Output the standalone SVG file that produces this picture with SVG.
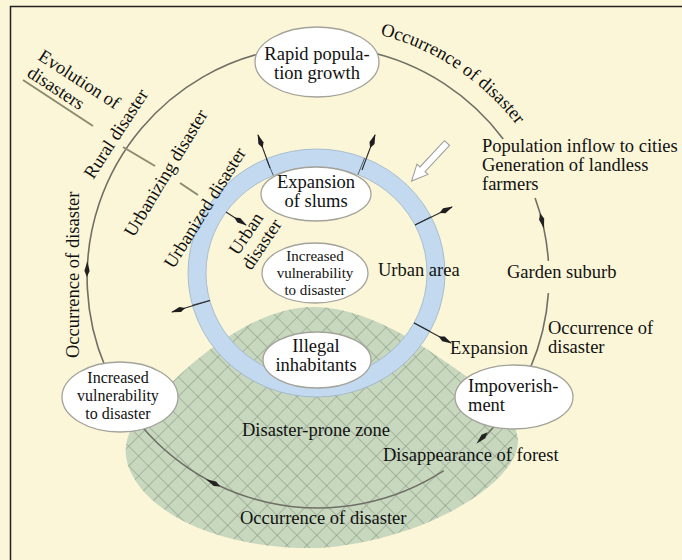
<svg xmlns="http://www.w3.org/2000/svg" width="682" height="560" viewBox="0 0 682 560">
<style>
text{font-family:"Liberation Serif","Times New Roman",serif;font-size:18.5px;fill:#111}
.sm{font-size:15px}
.md{font-size:16px}
.node{fill:#fff;stroke:#a3a39a;stroke-width:1.3}
.arc{fill:none;stroke:#6f6f66;stroke-width:1.6}
.sep{stroke:#50606e;stroke-width:1}
.arr{stroke:#2a2a2a;stroke-width:1.1;fill:none;marker-end:url(#head)}
.lead{stroke:#8c8a70;stroke-width:2}
.ah{fill:#222}
</style>
<defs>
<marker id="head" viewBox="0 0 14 6" refX="13" refY="3" markerWidth="15" markerHeight="6.5" markerUnits="userSpaceOnUse" orient="auto">
<path d="M0,3 L5,0.5 L14,3 L5,5.5 Z" fill="#1e1e1e"/>
</marker>
<path id="spindle" d="M-8,0 L-2,-2.6 L8,0 L-2,2.6 Z"/>
<pattern id="hatch" width="14" height="14" patternUnits="userSpaceOnUse" patternTransform="rotate(45)">
<path d="M0,0 H14 M0,0 V14" stroke="#4f5f4c" stroke-width="1" fill="none"/>
</pattern>
<path id="occArc" d="M374.2,33.4 A250,250 0 0 1 538.7,159.7"/>
</defs>

<rect x="0" y="0" width="682" height="560" fill="#fbf6d8"/>
<path d="M10.5,560 V6.5 H682" fill="none" stroke="#222" stroke-width="1.5"/>

<g id="disaster-prone-zone">
<path d="M313,307 C355,307 400,330 440,358 C480,385 515,410 518,440 C520,480 430,540 320,548 C230,550 160,520 135,480 C118,452 125,430 150,405 C200,350 260,307 313,307 Z" fill="#c8d8bf"/>
<path d="M313,307 C355,307 400,330 440,358 C480,385 515,410 518,440 C520,480 430,540 320,548 C230,550 160,520 135,480 C118,452 125,430 150,405 C200,350 260,307 313,307 Z" fill="url(#hatch)" opacity="0.6"/>
<text x="242" y="436">Disaster-prone zone</text>
</g>

<g id="urban-ring">
<ellipse cx="316.5" cy="273" rx="119.5" ry="115" fill="none" stroke="#c2d9ef" stroke-width="18"/>
<ellipse cx="316.5" cy="273" rx="128.5" ry="124" fill="none" stroke="#9cb3c6" stroke-width="0.8"/>
<ellipse cx="316.5" cy="273" rx="110.5" ry="106" fill="none" stroke="#9cb3c6" stroke-width="0.8"/>
<line class="sep" x1="273.3" y1="175.4" x2="266.3" y2="158.8"/>
<line class="sep" x1="357.9" y1="174.7" x2="364.6" y2="158"/>
<line class="sep" x1="415" y1="224.9" x2="431" y2="216.7"/>
<line class="sep" x1="209.8" y1="300.5" x2="192.4" y2="305.1"/>
<line class="sep" x1="414.1" y1="322.7" x2="430" y2="331.2"/>
<text x="378" y="276">Urban area</text>
</g>

<g id="connectors">
<path class="arc" d="M105.4,367.3 A231,231 0 0 1 503.2,139"/>
<path class="arc" d="M535.1,198 A231,231 0 0 1 548.4,260.9"/>
<path class="arc" d="M548.4,293.1 A231,231 0 0 1 530.6,367.3"/>
<path class="arc" d="M504.9,412.8 A231,231 0 0 1 484.2,437.5"/>
<path class="arc" d="M443.8,470.7 A231,231 0 0 1 122.1,399.4"/>
<use href="#spindle" class="ah" transform="translate(87.1,268.9) rotate(-88)"/>
<use href="#spindle" class="ah" transform="translate(542.1,221.1) rotate(76)"/>
<use href="#spindle" class="ah" transform="translate(213.1,482.8) rotate(207)"/>
<use href="#spindle" class="ah" transform="translate(482,438) rotate(134)"/>
<line class="arr" x1="270" y1="168" x2="258" y2="135"/>
<line class="arr" x1="362" y1="170" x2="375" y2="135"/>
<line class="arr" x1="415" y1="225" x2="452" y2="207"/>
<line class="arr" x1="210" y1="300.5" x2="172" y2="312"/>
<line class="arr" x1="414" y1="323" x2="451" y2="343"/>
<line class="arr" x1="226" y1="212" x2="246" y2="225"/>
<path d="M0,-3.5 L36,-3.5 L36,-7.5 L52,0 L36,7.5 L36,3.5 L0,3.5 Z" fill="#fff" stroke="#9a9a9a" stroke-width="1" transform="translate(447,143) rotate(133)"/>
<line class="lead" x1="23" y1="80" x2="93" y2="126"/>
<line class="lead" x1="123" y1="147" x2="155" y2="166"/>
<line class="lead" x1="180" y1="183" x2="198" y2="195"/>
</g>

<g id="rapid-population-growth">
<ellipse class="node" cx="317" cy="62" rx="62" ry="35"/>
<text text-anchor="middle"><tspan x="317" y="60">Rapid popula-</tspan><tspan x="317" y="79">tion growth</tspan></text>
</g>

<g id="expansion-of-slums">
<ellipse class="node" cx="316" cy="194" rx="55" ry="27"/>
<text text-anchor="middle"><tspan x="316" y="188">Expansion</tspan><tspan x="316" y="207">of slums</tspan></text>
</g>

<g id="urban-vulnerability">
<ellipse class="node" cx="315" cy="273" rx="53" ry="30"/>
<text class="sm" text-anchor="middle"><tspan x="315" y="261">Increased</tspan><tspan x="315" y="278">vulnerability</tspan><tspan x="315" y="295">to disaster</tspan></text>
</g>

<g id="illegal-inhabitants">
<ellipse class="node" cx="317" cy="360" rx="54" ry="28"/>
<text text-anchor="middle"><tspan x="316" y="352">Illegal</tspan><tspan x="316" y="371">inhabitants</tspan></text>
</g>

<g id="rural-vulnerability">
<ellipse class="node" cx="120" cy="397" rx="58" ry="35"/>
<text class="md" text-anchor="middle"><tspan x="118" y="383">Increased</tspan><tspan x="118" y="401">vulnerability</tspan><tspan x="118" y="419">to disaster</tspan></text>
</g>

<g id="impoverishment">
<ellipse class="node" cx="514" cy="397" rx="59" ry="32"/>
<text><tspan x="468" y="392">Impoverish-</tspan><tspan x="468" y="411">ment</tspan></text>
</g>

<g id="labels">
<text transform="translate(37,59) rotate(33)"><tspan x="0" y="0">Evolution of</tspan><tspan x="0" y="20">disasters</tspan></text>
<text text-anchor="middle" transform="translate(121,137) rotate(-57)">Rural disaster</text>
<text text-anchor="middle" transform="translate(171,176) rotate(-59)">Urbanizing disaster</text>
<text text-anchor="middle" transform="translate(210,211) rotate(-58)">Urbanized disaster</text>
<text text-anchor="middle" transform="translate(251,237) rotate(-56)"><tspan x="0" y="0">Urban</tspan><tspan x="0" y="19">disaster</tspan></text>
<text transform="translate(79,358) rotate(-90)">Occurrence of disaster</text>
<text><textPath href="#occArc" startOffset="6">Occurrence of disaster</textPath></text>
<text><tspan x="482" y="152">Population inflow to cities</tspan><tspan x="482" y="171">Generation of landless</tspan><tspan x="482" y="190">farmers</tspan></text>
<text x="507" y="278">Garden suburb</text>
<text x="450" y="354">Expansion</text>
<text><tspan x="548" y="334">Occurrence of</tspan><tspan x="548" y="353">disaster</tspan></text>
<text x="383" y="461">Disappearance of forest</text>
<text x="240" y="524">Occurrence of disaster</text>
</g>
</svg>
